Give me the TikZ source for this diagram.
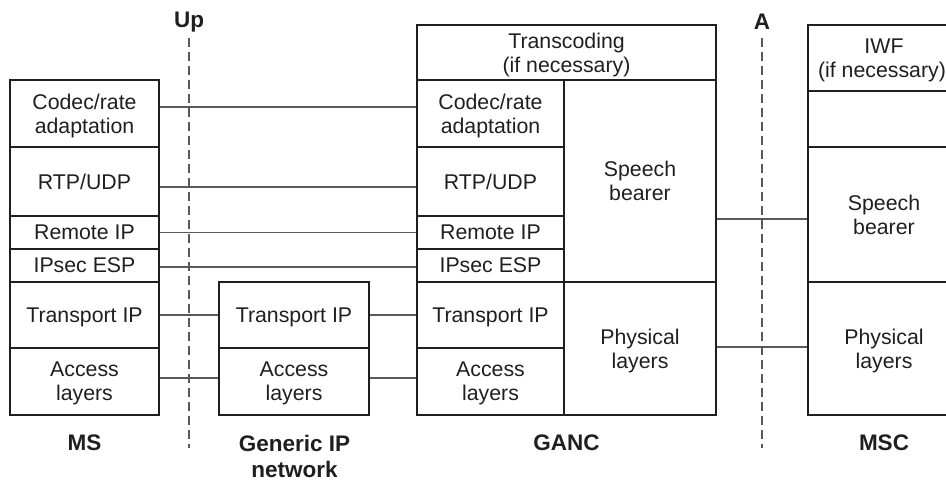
\documentclass[tikz,border=0pt]{standalone}
\usepackage{fontspec}
\setmainfont{Liberation Sans}
\begin{document}
\begin{tikzpicture}[x=1pt,y=-1pt,
  cell/.style={draw=black!88, line width=1.3pt, inner sep=0pt, align=center,
    font=\fontsize{21.3}{24}\selectfont, text=black!88, text depth=0pt},
  conn/.style={draw=black!65, line width=1.2pt},
  iface/.style={draw=black!65, line width=1.2pt, dash pattern=on 9pt off 5pt},
  lbl/.style={font=\fontsize{22.5}{26}\selectfont\bfseries, align=center, inner sep=0pt, text=black!88}]
\useasboundingbox (0,0) rectangle (946,480);
\clip (0,0) rectangle (946,480);
% MS
\node[cell, minimum width=149, minimum height=67] (ms1) at (84.5,113.5) {Codec/rate\\adaptation};
\node[cell, minimum width=149, minimum height=69] (ms2) at (84.5,181.5) {RTP/UDP};
\node[cell, minimum width=149, minimum height=33] (ms3) at (84.5,232.5) {Remote IP};
\node[cell, minimum width=149, minimum height=33] (ms4) at (84.5,265.5) {IPsec ESP};
\node[cell, minimum width=149, minimum height=66] (ms5) at (84.5,315) {Transport IP};
\node[cell, minimum width=149, minimum height=67] (ms6) at (84.5,381.5) {Access\\layers};
% Generic IP network
\node[cell, minimum width=150, minimum height=66] (gn1) at (294,315) {Transport IP};
\node[cell, minimum width=150, minimum height=67] (gn2) at (294,381.5) {Access\\layers};
% GANC
\node[cell, minimum width=299, minimum height=55] (gtr) at (566.5,52.5) {Transcoding\\(if necessary)};
\node[cell, minimum width=147, minimum height=67] (g1) at (490.5,113.5) {Codec/rate\\adaptation};
\node[cell, minimum width=147, minimum height=69] (g2) at (490.5,181.5) {RTP/UDP};
\node[cell, minimum width=147, minimum height=33] (g3) at (490.5,232.5) {Remote IP};
\node[cell, minimum width=147, minimum height=33] (g4) at (490.5,265.5) {IPsec ESP};
\node[cell, minimum width=147, minimum height=66] (g5) at (490.5,315) {Transport IP};
\node[cell, minimum width=147, minimum height=67] (g6) at (490.5,381.5) {Access\\layers};
\node[cell, minimum width=152, minimum height=202] (gsb) at (640,181) {Speech\\bearer};
\node[cell, minimum width=152, minimum height=133] (gph) at (640,348.5) {Physical\\layers};
% MSC
\node[cell, minimum width=152, minimum height=66] (m1) at (884,58) {IWF\\(if necessary)\kern4pt};
\node[cell, minimum width=152, minimum height=56] (m2) at (884,119) {};
\node[cell, minimum width=152, minimum height=135] (msb) at (884,214.5) {Speech\\bearer};
\node[cell, minimum width=152, minimum height=133] (mph) at (884,348.5) {Physical\\layers};
% connectors
\draw[conn] ([yshift=6.5pt]ms1.east) -- ([yshift=6.5pt]g1.west);
\draw[conn] ([yshift=-5.5pt]ms2.east) -- ([yshift=-5.5pt]g2.west);
\draw[conn] (ms3.east) -- (g3.west);
\draw[conn] ([yshift=-1.5pt]ms4.east) -- ([yshift=-1.5pt]g4.west);
\draw[conn] (ms5.east) -- (gn1.west);
\draw[conn] (gn1.east) -- (g5.west);
\draw[conn] ([yshift=3.5pt]ms6.east) -- ([yshift=3.5pt]gn2.west);
\draw[conn] ([yshift=3.5pt]gn2.east) -- ([yshift=3.5pt]g6.west);
\draw[conn] ([yshift=-38pt]gsb.east) -- ([yshift=-38pt]gsb.east -| msb.west);
\draw[conn] ([yshift=1.5pt]gph.east) -- ([yshift=1.5pt]mph.west);
% interfaces
\node[lbl] (up) at (189,22) {Up};
\coordinate (upt) at (189,38);
\coordinate (upb) at (189,448);
\draw[iface] (upt) -- (upb);
\node[lbl] (a) at (762,22) {A};
\coordinate (at) at (762,38);
\coordinate (ab) at (762,448);
\draw[iface] (at) -- (ab);
% labels
\node[lbl] (lms) at (84.5,443) {MS};
\node[lbl] (lgn) at (294.5,456) {Generic IP\\network};
\node[lbl] (lganc) at (566.5,443) {GANC};
\node[lbl] (lmsc) at (884,443) {MSC};
\end{tikzpicture}
\end{document}
